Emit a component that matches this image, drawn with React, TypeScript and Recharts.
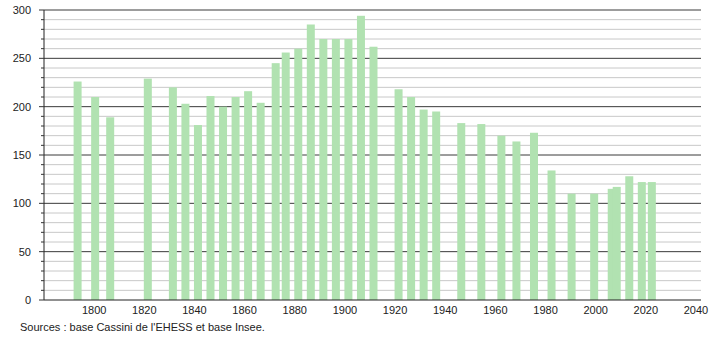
import { BarChart, Bar, XAxis, YAxis, CartesianGrid } from "recharts";

const years = [
  1793, 1800, 1806, 1821, 1831, 1836, 1841, 1846, 1851, 1856, 1861, 1866,
  1872, 1876, 1881, 1886, 1891, 1896, 1901, 1906, 1911, 1921, 1926, 1931,
  1936, 1946, 1954, 1962, 1968, 1975, 1982, 1990, 1999, 2006, 2008, 2013,
  2018, 2022,
];
const population = [
  226, 210, 189, 229, 220, 203, 181, 211, 200, 210, 216, 204, 245, 256, 260,
  285, 270, 270, 270, 294, 262, 218, 210, 197, 195, 183, 182, 170, 164, 173,
  134, 110, 110, 115, 117, 128, 122, 122,
];
const xTicks = [1800, 1820, 1840, 1860, 1880, 1900, 1920, 1940, 1960, 1980, 2000, 2020, 2040];
const yMajor = [50, 100, 150, 200, 250, 300];
const yMinor = [
  10, 20, 30, 40, 60, 70, 80, 90, 110, 120, 130, 140, 160, 170, 180, 190,
  210, 220, 230, 240, 260, 270, 280, 290,
];
const yTicks = [0, ...yMinor, ...yMajor].sort((a, b) => a - b);

const data = years.map((year, i) => ({ year, pop: population[i] }));

const AXIS_X = 44;
const BAR_W = 8;
const font = "'Liberation Sans', Arial, sans-serif";

const YTick = (props: any) => {
  const { y, payload } = props;
  const major = payload.value % 50 === 0;
  return (
    <g>
      <line
        x1={AXIS_X - (major ? 5 : 3)}
        x2={AXIS_X}
        y1={y}
        y2={y}
        stroke="#333"
        strokeWidth={1}
      />
      {major && (
        <text x={31} y={y} dy={4} textAnchor="end" fontSize={11} fill="#222" fontFamily={font}>
          {payload.value}
        </text>
      )}
    </g>
  );
};

// recharts caps the bar width at the smallest gap between years, so draw a fixed-width rect
const WideBar = (props: any) => {
  const { x, y, width, height, fill } = props;
  const cx = x + width / 2 + 1;
  return <rect x={cx - BAR_W / 2} y={y} width={BAR_W} height={height} fill={fill} />;
};

export default function App() {
  return (
    <div style={{ position: "absolute", left: 0, top: 0, width: 710, height: 340, background: "#fff" }}>
      <BarChart
        width={710}
        height={320}
        data={data}
        margin={{ top: 10, right: 9, left: 0, bottom: 0 }}
      >
        <CartesianGrid vertical={false} horizontalValues={yMinor} stroke="#c8c8c8" />
        <CartesianGrid vertical={false} horizontalValues={yMajor} stroke="#3a3a3a" />
        <XAxis
          dataKey="year"
          type="number"
          domain={[1780, 2042]}
          ticks={xTicks}
          allowDataOverflow
          tickLine={false}
          axisLine={{ stroke: "#222" }}
          height={20}
          tick={{ fontSize: 11, fill: "#222", fontFamily: font }}
          tickMargin={0}
        />
        <YAxis
          type="number"
          domain={[0, 300]}
          ticks={yTicks}
          interval={0}
          width={AXIS_X}
          tickLine={false}
          axisLine={{ stroke: "#222" }}
          tick={<YTick />}
        />
        <Bar dataKey="pop" fill="#b1e2b1" shape={<WideBar />} isAnimationActive={false} />
      </BarChart>
      <div
        style={{
          position: "absolute",
          left: 20,
          top: 321,
          fontSize: 11,
          fontFamily: font,
          color: "#222",
        }}
      >
        Sources : base Cassini de l'EHESS et base Insee.
      </div>
    </div>
  );
}
